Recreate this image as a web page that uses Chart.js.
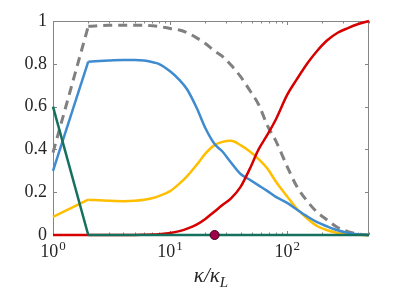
<!DOCTYPE html>
<html>
<head>
<meta charset="utf-8">
<script src="https://cdn.jsdelivr.net/npm/chart.js"></script>
<style>
  html, body { margin: 0; padding: 0; background: #fff; }
  canvas { display: block; }
</style>
</head>
<body>
<canvas id="chart" width="407" height="291"></canvas>
<script>
// kappa / kappa_L sample points
const kappa = [1, 2, 3, 4, 5, 6, 7, 8, 10, 12, 14, 17, 20, 24, 28, 33, 40, 48, 57, 68, 80, 100, 120, 150, 180, 220, 270, 330, 400, 500];

const blueVals   = [0.30, 0.81, 0.815, 0.818, 0.818, 0.815, 0.808, 0.80, 0.765, 0.725, 0.68, 0.59, 0.50, 0.425, 0.39, 0.34, 0.285, 0.258, 0.232, 0.205, 0.178, 0.15, 0.12, 0.085, 0.06, 0.04, 0.022, 0.01, 0.003, 0];
const yellowVals = [0.085, 0.165, 0.16, 0.158, 0.16, 0.165, 0.172, 0.182, 0.205, 0.24, 0.275, 0.33, 0.38, 0.42, 0.435, 0.44, 0.42, 0.39, 0.355, 0.31, 0.25, 0.18, 0.125, 0.075, 0.042, 0.022, 0.01, 0.004, 0.001, 0];
const redVals    = [0, 0, 0, 0, 0, 0.001, 0.002, 0.004, 0.009, 0.018, 0.03, 0.05, 0.075, 0.11, 0.14, 0.17, 0.225, 0.31, 0.40, 0.47, 0.54, 0.655, 0.725, 0.805, 0.86, 0.91, 0.945, 0.967, 0.985, 1.0];
const greenVals  = [0.6, 0, 0, 0, 0, 0, 0, 0, 0, 0, 0, 0, 0, 0, 0, 0, 0, 0, 0, 0, 0, 0, 0, 0, 0, 0, 0, 0, 0, 0];
const dashVals   = [0.385, 0.975, 0.98, 0.98, 0.98, 0.98, 0.978, 0.975, 0.965, 0.958, 0.945, 0.92, 0.895, 0.86, 0.835, 0.795, 0.74, 0.675, 0.61, 0.51, 0.44, 0.32, 0.23, 0.155, 0.107, 0.07, 0.035, 0.016, 0.005, 0];

const markerX = [24];
const markerY = [0];

const xTickValues = [1, 10, 100];
const yTickValues = [0, 0.2, 0.4, 0.6, 0.8, 1];

const serif = "'Liberation Serif', serif";
const textColor = '#262626';

function pts(xs, ys) {
  return xs.map((x, i) => ({ x: x, y: ys[i] }));
}

const frame = {
  id: 'frame',
  beforeDatasetsDraw(chart) {
    const { ctx, chartArea: a, scales: { x, y } } = chart;
    ctx.save();
    ctx.strokeStyle = '#858585';
    ctx.lineWidth = 1;
    ctx.strokeRect(a.left + 0.5, a.top + 0.5, a.right - a.left - 1, a.bottom - a.top);
    ctx.beginPath();
    for (let d = 0; d < 3; d++) {
      for (let k = 1; k < 10; k++) {
        const v = k * Math.pow(10, d);
        if (v < x.min || v > x.max) continue;
        const px = Math.round(x.getPixelForValue(v)) + 0.5;
        const len = k === 1 ? 4 : 2.5;
        ctx.moveTo(px, a.top);
        ctx.lineTo(px, a.top + len);
        ctx.moveTo(px, a.bottom);
        ctx.lineTo(px, a.bottom - len);
      }
    }
    yTickValues.forEach(v => {
      const py = Math.round(y.getPixelForValue(v)) + 0.5;
      ctx.moveTo(a.left, py);
      ctx.lineTo(a.left + 4, py);
      ctx.moveTo(a.right, py);
      ctx.lineTo(a.right - 4, py);
    });
    ctx.stroke();
    ctx.restore();
  },
  afterDraw(chart) {
    const { ctx, chartArea: a, scales: { x } } = chart;
    ctx.save();
    ctx.fillStyle = textColor;
    ctx.textBaseline = 'alphabetic';
    ctx.textAlign = 'left';
    // x tick labels: 10^n
    xTickValues.forEach(v => {
      const exp = String(Math.round(Math.log10(v)));
      ctx.font = '18px ' + serif;
      const wb = ctx.measureText('10').width;
      ctx.font = '13px ' + serif;
      const we = ctx.measureText(exp).width;
      const cx = x.getPixelForValue(v);
      const left = cx - (wb + we + 1) / 2;
      ctx.font = '18px ' + serif;
      ctx.fillText('10', left, a.bottom + 22);
      ctx.font = '13px ' + serif;
      ctx.fillText(exp, left + wb + 1, a.bottom + 15);
    });
    // axis title: kappa / kappa_L
    ctx.font = 'italic 21px ' + serif;
    const main = 'κ/κ';
    const wm = ctx.measureText(main).width;
    ctx.font = 'italic 15px ' + serif;
    const ws = ctx.measureText('L').width;
    const cx = (a.left + a.right) / 2;
    const start = cx - (wm + ws) / 2;
    ctx.font = 'italic 21px ' + serif;
    ctx.fillText(main, start, a.bottom + 47);
    ctx.font = 'italic 15px ' + serif;
    ctx.fillText('L', start + wm, a.bottom + 52);
    ctx.restore();
  }
};

// each curve: straight first segment (kappa 1 -> 2), smooth remainder
function lineSets(label, data, color, order, extra) {
  const all = pts(kappa, data);
  const base = {
    borderColor: color,
    backgroundColor: color,
    borderWidth: 2.5,
    pointRadius: 0,
    fill: false,
    clip: false,
    order: order
  };
  return [
    Object.assign({}, base, { label: label + '-a', data: all.slice(0, 2), tension: 0 }, extra || {}),
    Object.assign({}, base, { label: label + '-b', data: all.slice(1), cubicInterpolationMode: 'monotone' }, extra || {})
  ];
}

new Chart(document.getElementById('chart'), {
  type: 'line',
  data: {
    datasets: [
      {
        label: 'marker',
        data: pts(markerX, markerY),
        showLine: false,
        pointRadius: 4.5,
        pointBackgroundColor: '#a3004c',
        pointBorderColor: '#3a0018',
        pointBorderWidth: 1,
        clip: false,
        order: 0
      },
      ...lineSets('green', greenVals, '#16705e', 1),
      ...lineSets('red', redVals, '#d60000', 2),
      ...lineSets('blue', blueVals, '#3f8bcf', 3),
      ...lineSets('yellow', yellowVals, '#ffbe00', 4),
      ...lineSets('total', dashVals, '#808080', 5, { borderDash: [9, 6], borderWidth: 3 })
    ]
  },
  options: {
    responsive: false,
    animation: false,
    devicePixelRatio: 1,
    layout: { padding: { left: 0, right: 38, top: 21, bottom: 0 } },
    plugins: {
      legend: { display: false },
      tooltip: { enabled: false }
    },
    scales: {
      x: {
        type: 'logarithmic',
        min: 1,
        max: 500,
        grid: { display: false, drawTicks: false },
        border: { display: false },
        ticks: { display: false },
        afterFit: function(scale) { scale.height = 56; }
      },
      y: {
        min: 0,
        max: 1,
        grid: { display: false, drawTicks: false },
        border: { display: false },
        afterBuildTicks: function(scale) {
          scale.ticks = yTickValues.map(v => ({ value: v }));
        },
        ticks: {
          padding: 6,
          color: textColor,
          font: { family: serif, size: 18 },
          callback: function(value) { return String(value); }
        },
        afterFit: function(scale) { scale.width = 53; }
      }
    }
  },
  plugins: [frame]
});
</script>
</body>
</html>
